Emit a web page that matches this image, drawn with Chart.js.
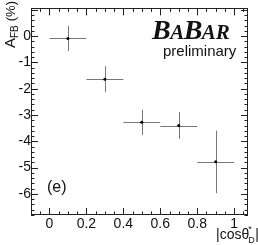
<!DOCTYPE html>
<html>
<head>
<meta charset="utf-8">
<script src="https://cdn.jsdelivr.net/npm/chart.js@4/dist/chart.umd.min.js"></script>
<style>
  html, body { margin: 0; padding: 0; background: #fff; }
  canvas { display: block; }
</style>
</head>
<body>
<canvas id="afbChart" width="258" height="245"></canvas>
<script>
// |cos theta*_D| bins and the measured asymmetry (percent)
const binCenters = [0.1, 0.3, 0.5, 0.7, 0.9];
const binHalfWidths = [0.1, 0.1, 0.1, 0.1, 0.1];
const afbValues = [-0.09, -1.64, -3.28, -3.40, -4.78];
const afbErrors = [0.48, 0.49, 0.48, 0.51, 1.19];

const xTickLabels = [0, 0.2, 0.4, 0.6, 0.8, 1];
const yTickLabels = [0, -1, -2, -3, -4, -5, -6];

const FONT = "'Liberation Sans', Arial, sans-serif";

// ROOT-style frame: ticks on all four sides pointing inwards, error bars, labels
const rootStyle = {
  id: "rootStyle",
  beforeDatasetsDraw(chart) {
    const { ctx, scales: { x, y } } = chart;
    ctx.save();
    ctx.strokeStyle = "#777";
    ctx.lineWidth = 1;
    binCenters.forEach((c, i) => {
      const px = x.getPixelForValue(c);
      const py = y.getPixelForValue(afbValues[i]);
      ctx.beginPath();
      ctx.moveTo(x.getPixelForValue(c - binHalfWidths[i]), Math.round(py) + 0.5);
      ctx.lineTo(x.getPixelForValue(c + binHalfWidths[i]), Math.round(py) + 0.5);
      ctx.moveTo(Math.round(px) + 0.5, y.getPixelForValue(afbValues[i] + afbErrors[i]));
      ctx.lineTo(Math.round(px) + 0.5, y.getPixelForValue(afbValues[i] - afbErrors[i]));
      ctx.stroke();
    });
    ctx.restore();
  },
  afterDraw(chart) {
    const { ctx, chartArea: a, scales: { x, y } } = chart;
    ctx.save();

    // logo box
    ctx.fillStyle = "#fff";
    ctx.fillRect(146, 15, 96, 48);

    ctx.strokeStyle = "#222";
    ctx.lineWidth = 1;
    ctx.beginPath();
    // x ticks, minor every 0.05
    for (let k = -2; k <= 21; k++) {
      const v = k * 0.05;
      if (v < x.min - 1e-9 || v > x.max + 1e-9) continue;
      const len = k % 4 === 0 ? 7 : 3.5;
      const px = Math.round(x.getPixelForValue(v)) + 0.5;
      ctx.moveTo(px, a.bottom); ctx.lineTo(px, a.bottom - len);
      ctx.moveTo(px, a.top); ctx.lineTo(px, a.top + len);
    }
    // y ticks, minor every 0.2
    for (let k = -34; k <= 5; k++) {
      const v = k * 0.2;
      if (v < y.min - 1e-9 || v > y.max + 1e-9) continue;
      const len = k % 5 === 0 ? 7 : 3.5;
      const py = Math.round(y.getPixelForValue(v)) + 0.5;
      ctx.moveTo(a.left, py); ctx.lineTo(a.left + len, py);
      ctx.moveTo(a.right, py); ctx.lineTo(a.right - len, py);
    }
    ctx.stroke();
    ctx.strokeRect(Math.round(a.left) + 0.5, Math.round(a.top) + 0.5,
      Math.round(a.right - a.left) - 1, Math.round(a.bottom - a.top) - 1);

    ctx.fillStyle = "#111";

    // BaBar logo
    ctx.textBaseline = "alphabetic";
    ctx.textAlign = "left";
    let lx = 152;
    const parts = [["B", 28], ["A", 21], ["B", 28], ["AR", 21]];
    parts.forEach(([t, s]) => {
      ctx.font = `italic bold ${s}px 'Liberation Serif', serif`;
      ctx.fillText(t, lx, 39);
      lx += ctx.measureText(t).width - 0.5;
    });
    ctx.font = `15px ${FONT}`;
    ctx.fillText("preliminary", 163, 56);

    // panel label
    ctx.font = `16px ${FONT}`;
    ctx.fillText("(e)", 47, 192);

    // y title: A_FB (%)
    ctx.save();
    ctx.translate(15, 48);
    ctx.rotate(-Math.PI / 2);
    ctx.font = `15px ${FONT}`;
    ctx.fillText("A", 0, 0);
    let tx = ctx.measureText("A").width;
    ctx.font = `10px ${FONT}`;
    ctx.fillText("FB", tx, 3);
    tx += ctx.measureText("FB").width + 4;
    ctx.font = `13px ${FONT}`;
    ctx.fillText("(%)", tx, 0);
    ctx.restore();

    // x title: |cos theta*_D|
    ctx.font = `14px ${FONT}`;
    let bx = 216;
    ctx.fillText("|cos", bx, 239);
    bx += ctx.measureText("|cos").width;
    ctx.fillText("θ", bx, 239);
    const th = ctx.measureText("θ").width;
    ctx.font = `9px ${FONT}`;
    ctx.fillText("*", bx + th - 1, 232);
    ctx.fillText("D", bx + th - 1, 243);
    ctx.font = `14px ${FONT}`;
    ctx.fillText("|", bx + th + 6, 239);

    ctx.restore();
  }
};

new Chart(document.getElementById("afbChart"), {
  type: "scatter",
  data: {
    datasets: [{
      data: binCenters.map((c, i) => ({ x: c, y: afbValues[i] })),
      backgroundColor: "#000",
      borderColor: "#000",
      pointRadius: 1.5,
      pointBorderWidth: 0
    }]
  },
  options: {
    responsive: false,
    animation: false,
    devicePixelRatio: 1,
    layout: { padding: { left: 0, top: 4, right: 10, bottom: 0 } },
    plugins: { legend: { display: false }, tooltip: { enabled: false } },
    scales: {
      x: {
        type: "linear",
        min: -0.1,
        max: 1.075,
        grid: { display: false, drawTicks: false },
        border: { display: false },
        afterBuildTicks: s => { s.ticks = xTickLabels.map(v => ({ value: v })); },
        afterFit: s => { s.height = 30; },
        ticks: {
          padding: 1,
          color: "#111",
          font: { family: FONT, size: 14 },
          maxRotation: 0,
          callback: v => String(v)
        }
      },
      y: {
        type: "linear",
        min: -6.8,
        max: 1.05,
        grid: { display: false, drawTicks: false },
        border: { display: false },
        afterBuildTicks: s => { s.ticks = yTickLabels.map(v => ({ value: v })); },
        afterFit: s => { s.width = 31; },
        ticks: {
          padding: 0,
          color: "#111",
          font: { family: FONT, size: 14 },
          callback: v => String(v)
        }
      }
    }
  },
  plugins: [rootStyle]
});
</script>
</body>
</html>
